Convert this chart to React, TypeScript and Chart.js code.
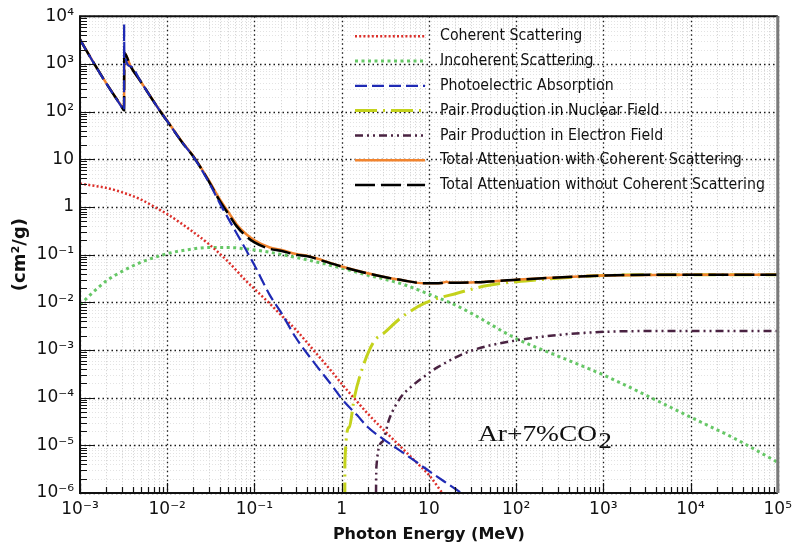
import React, { useEffect, useRef } from 'react';
import { Chart, registerables } from 'chart.js';

Chart.register(...registerables);

// ---------------- data (energy in MeV, mass attenuation in cm^2/g) ----------------
const COH_E = [0.001, 0.0015, 0.002, 0.003, 0.005, 0.008, 0.01, 0.015, 0.02, 0.03, 0.05, 0.08, 0.1, 0.15, 0.2, 0.3, 0.5, 0.8, 1, 1.5, 2, 3, 5, 8, 10, 15, 20];
const COH_MU = [3.09, 2.75, 2.51, 2.04, 1.43, 0.89, 0.71, 0.43, 0.295, 0.166, 0.0708, 0.0282, 0.0191, 0.00933, 0.0055, 0.00263, 8.9e-4, 3.24e-4, 1.95e-4, 8.3e-5, 4.57e-5, 2.14e-5, 8.5e-6, 3.63e-6, 2.4e-6, 8.9e-7, 5e-7];

const INCOH_E = [0.001, 0.0015, 0.002, 0.003, 0.005, 0.008, 0.01, 0.02, 0.03, 0.05, 0.08, 0.15, 0.3, 0.5, 1, 2, 3, 5, 10, 20, 30, 100, 316, 1000, 3160, 1e4, 3.16e4, 1e5];
const INCOH_MU = [0.0089, 0.018, 0.028, 0.044, 0.069, 0.093, 0.105, 0.132, 0.141, 0.141, 0.132, 0.112, 0.087, 0.071, 0.052, 0.037, 0.031, 0.024, 0.0148, 0.0088, 0.006, 0.00174, 7.2e-4, 3.0e-4, 1.1e-4, 3.9e-5, 1.41e-5, 4.4e-6];

const PHOTO_E = [0.001, 0.0015, 0.002, 0.003, 0.0032, 0.003205, 0.00322, 0.0038, 0.005, 0.008, 0.01, 0.015, 0.02, 0.03, 0.04, 0.05, 0.08, 0.1, 0.15, 0.2, 0.3, 0.5, 0.8, 1, 1.5, 2, 3, 5, 8, 10, 15, 20, 25];
const PHOTO_MU = [3240, 912, 389, 126, 105, 6700, 1860, 890, 417, 112, 63, 22, 11.2, 3.3, 1.2, 0.575, 0.126, 0.06, 0.0141, 0.0063, 0.00178, 5e-4, 1.66e-4, 9.5e-5, 4.3e-5, 2.4e-5, 1.35e-5, 7.1e-6, 3.9e-6, 2.9e-6, 1.74e-6, 1.23e-6, 9.3e-7];

const PAIRN_E = [1.085, 1.09, 1.22, 1.4, 1.74, 2.37, 3, 4.76, 9.2, 21, 47, 174, 1000, 1e4, 1e5];
const PAIRN_MU = [1e-7, 4.5e-6, 2.4e-5, 1.02e-4, 4.3e-4, 1.55e-3, 2.2e-3, 4.7e-3, 9.8e-3, 0.0155, 0.0224, 0.0295, 0.0363, 0.038, 0.038];

const PAIRE_E = [2.45, 2.5, 2.94, 3.5, 4.76, 6.2, 9.6, 12.5, 30, 93, 650, 5800, 1e5];
const PAIRE_MU = [1e-7, 3.5e-6, 1.2e-5, 3.5e-5, 1.02e-4, 1.66e-4, 3.1e-4, 4.3e-4, 9.5e-4, 1.55e-3, 2.3e-3, 2.5e-3, 2.5e-3];

const TOT_E = [0.001, 0.0015, 0.002, 0.003, 0.0032, 0.00322, 0.0038, 0.005, 0.008, 0.01, 0.015, 0.02, 0.03, 0.04, 0.05, 0.062, 0.08, 0.1, 0.15, 0.2, 0.3, 0.42, 0.5, 1, 2.8, 5, 8.8, 14, 16, 17.5, 35, 93, 1000, 1e4, 1e5];
const TOT_MU = [3250, 915, 392, 127, 106, 1700, 890, 417, 112, 63, 22, 11.3, 3.45, 1.33, 0.72, 0.4, 0.245, 0.18, 0.132, 0.12, 0.1, 0.091, 0.083, 0.056, 0.035, 0.029, 0.025, 0.0255, 0.0268, 0.0256, 0.0263, 0.0295, 0.0363, 0.038, 0.038];

const TOTC_E = [0.001, 0.0015, 0.002, 0.003, 0.0032, 0.00322, 0.0038, 0.005, 0.008, 0.01, 0.015, 0.02, 0.03, 0.04, 0.05, 0.062, 0.08, 0.1, 0.15, 0.2, 0.3, 0.42, 0.5, 1, 2.8, 5, 8.8, 14, 16, 17.5, 35, 93, 1000, 1e4, 1e5];
const TOTC_MU = [3253, 918, 395, 129, 108, 1720, 893, 419, 113, 64, 22.4, 11.6, 3.6, 1.45, 0.79, 0.44, 0.27, 0.2, 0.141, 0.126, 0.103, 0.093, 0.085, 0.0562, 0.035, 0.029, 0.025, 0.0255, 0.0268, 0.0256, 0.0263, 0.0295, 0.0363, 0.038, 0.038];

const SERIES_LABELS = [
  'Coherent Scattering',
  'Incoherent Scattering',
  'Photoelectric Absorption',
  'Pair Production in Nuclear Field',
  'Pair Production in Electron Field',
  'Total Attenuation with Coherent Scattering',
  'Total Attenuation without Coherent Scattering',
];

const X_MAJOR = [1e-3, 1e-2, 1e-1, 1, 10, 100, 1e3, 1e4, 1e5];
const X_LABELS = ['10\u207B\u00B3', '10\u207B\u00B2', '10\u207B\u00B9', '1', '10', '10\u00B2', '10\u00B3', '10\u2074', '10\u2075'];
const Y_MAJOR = [1e-6, 1e-5, 1e-4, 1e-3, 1e-2, 1e-1, 1, 10, 100, 1e3, 1e4];
const Y_LABELS = ['10\u207B\u2076', '10\u207B\u2075', '10\u207B\u2074', '10\u207B\u00B3', '10\u207B\u00B2', '10\u207B\u00B9', '1', '10', '10\u00B2', '10\u00B3', '10\u2074'];
const MINOR_MULT = [2, 3, 4, 5, 6, 7, 8, 9];

const ANNOTATION = 'Ar+7%CO';
const ANNOTATION_SUB = '2';

// ---------------- helpers ----------------
function allTicks(majors: number[]) {
  const out: number[] = [];
  majors.forEach((m, i) => {
    out.push(m);
    if (i < majors.length - 1) MINOR_MULT.forEach((k) => out.push(m * k));
  });
  return out;
}
const X_ALL = allTicks(X_MAJOR);
const Y_ALL = allTicks(Y_MAJOR);

function isDecade(v: number) {
  const l = Math.log10(v);
  return Math.abs(l - Math.round(l)) < 1e-6;
}
function labelFor(v: number, majors: number[], labels: string[]) {
  const lv = Math.log10(v);
  for (let i = 0; i < majors.length; i++) {
    if (Math.abs(Math.log10(majors[i]) - lv) < 1e-6) return labels[i];
  }
  return '';
}
function pts(E: number[], M: number[]) {
  return E.map((e, i) => ({ x: e, y: M[i] }));
}

const gridPlugin = {
  id: 'logGrid',
  beforeDatasetsDraw(chart: any) {
    const { ctx, chartArea: a } = chart;
    const xs = chart.scales.x;
    const ys = chart.scales.y;
    ctx.save();
    ctx.lineWidth = 1;
    ctx.setLineDash([1, 2]);
    ctx.strokeStyle = '#cdcdcd';
    ctx.beginPath();
    for (const v of X_ALL) {
      if (isDecade(v)) continue;
      const p = Math.round(xs.getPixelForValue(v)) + 0.5;
      ctx.moveTo(p, a.top);
      ctx.lineTo(p, a.bottom);
    }
    ctx.stroke();
    ctx.strokeStyle = '#e3e3e3';
    ctx.beginPath();
    for (const v of Y_ALL) {
      if (isDecade(v)) continue;
      const p = Math.round(ys.getPixelForValue(v)) + 0.5;
      ctx.moveTo(a.left, p);
      ctx.lineTo(a.right, p);
    }
    ctx.stroke();
    ctx.strokeStyle = '#1a1a1a';
    ctx.lineWidth = 1.3;
    ctx.setLineDash([1.5, 3]);
    ctx.beginPath();
    for (const v of X_MAJOR) {
      const p = Math.round(xs.getPixelForValue(v)) + 0.5;
      ctx.moveTo(p, a.top);
      ctx.lineTo(p, a.bottom);
    }
    for (const v of Y_MAJOR) {
      const p = Math.round(ys.getPixelForValue(v)) + 0.5;
      ctx.moveTo(a.left, p);
      ctx.lineTo(a.right, p);
    }
    ctx.stroke();
    ctx.restore();
  },
  afterDatasetsDraw(chart: any) {
    const { ctx, chartArea: a } = chart;
    const xs = chart.scales.x;
    const ys = chart.scales.y;
    ctx.save();
    ctx.setLineDash([]);
    ctx.strokeStyle = '#111';
    ctx.lineWidth = 1.2;
    ctx.beginPath();
    for (const v of Y_ALL) {
      const p = Math.round(ys.getPixelForValue(v)) + 0.5;
      const len = isDecade(v) ? 15 : 7;
      ctx.moveTo(a.left, p);
      ctx.lineTo(a.left + len, p);
    }
    for (const v of X_ALL) {
      const p = Math.round(xs.getPixelForValue(v)) + 0.5;
      const len = isDecade(v) ? 10 : 6;
      ctx.moveTo(p, a.bottom);
      ctx.lineTo(p, a.bottom - len);
    }
    ctx.stroke();
    // frame
    ctx.lineWidth = 2;
    ctx.strokeStyle = '#111';
    ctx.beginPath();
    ctx.moveTo(a.right, a.top);
    ctx.lineTo(a.left, a.top);
    ctx.lineTo(a.left, a.bottom);
    ctx.lineTo(a.right, a.bottom);
    ctx.stroke();
    ctx.lineWidth = 3;
    ctx.strokeStyle = '#7a7a7a';
    ctx.beginPath();
    ctx.moveTo(a.right, a.top);
    ctx.lineTo(a.right, a.bottom);
    ctx.stroke();
    ctx.restore();
  },
  afterDraw(chart: any) {
    const { ctx, chartArea: a } = chart;
    ctx.save();
    // legend
    ctx.font = '16px "DejaVu Sans"';
    const dsets = chart.data.datasets;
    let longest = 0;
    dsets.forEach((d: any) => {
      longest = Math.max(longest, ctx.measureText(d.label).width);
    });
    const sx = 325 / longest;
    dsets.forEach((ds: any, i: number) => {
      const y = a.top + 20 + i * 24.8;
      ctx.save();
      ctx.strokeStyle = ds.borderColor;
      ctx.lineWidth = ds.borderWidth;
      ctx.setLineDash(ds.borderDash || []);
      ctx.beginPath();
      ctx.moveTo(a.left + 275, y);
      ctx.lineTo(a.left + 345, y);
      ctx.stroke();
      ctx.restore();
      ctx.save();
      ctx.translate(a.left + 360, y);
      ctx.scale(sx, 1);
      ctx.fillStyle = '#111';
      ctx.textBaseline = 'middle';
      ctx.textAlign = 'left';
      ctx.fillText(ds.label, 0, 0);
      ctx.restore();
    });
    // annotation
    ctx.font = '24px "Liberation Serif"';
    const w = ctx.measureText(ANNOTATION).width;
    const ax = 119 / w;
    ctx.save();
    ctx.translate(a.left + 398, a.top + 425);
    ctx.scale(ax, 1);
    ctx.fillStyle = '#111';
    ctx.textBaseline = 'alphabetic';
    ctx.fillText(ANNOTATION, 0, 0);
    ctx.fillText(ANNOTATION_SUB, w + 1, 7);
    ctx.restore();
    ctx.restore();
  },
};

export default function App() {
  const ref = useRef<HTMLCanvasElement | null>(null);
  useEffect(() => {
    document.body.style.margin = '0';
    const canvas = ref.current;
    if (!canvas) return;
    const mk = (i: number, E: number[], M: number[], color: string, width: number, dash: number[], order: number) => ({
      label: SERIES_LABELS[i],
      data: pts(E, M),
      borderColor: color,
      backgroundColor: color,
      borderWidth: width,
      borderDash: dash,
      pointRadius: 0,
      pointHoverRadius: 0,
      showLine: true,
      fill: false,
      order,
      cubicInterpolationMode: 'monotone',
    });
    const chart = new Chart(canvas, {
      type: 'scatter',
      data: {
        datasets: [
          mk(0, COH_E, COH_MU, '#dc2f2a', 2.5, [2, 2.2], 5),
          mk(1, INCOH_E, INCOH_MU, '#66c766', 3, [3, 3.5], 6),
          mk(2, PHOTO_E, PHOTO_MU, '#1f2ab4', 2.2, [12, 5], 0),
          mk(3, PAIRN_E, PAIRN_MU, '#c4d21c', 3, [22, 6, 2, 6], 3),
          mk(4, PAIRE_E, PAIRE_MU, '#4a2342', 2.5, [8, 4, 2, 4, 2, 4], 4),
          mk(5, TOTC_E, TOTC_MU, '#f2842e', 2.5, [], 2),
          mk(6, TOT_E, TOT_MU, '#000000', 2.5, [20, 6], 1),
        ] as any,
      },
      options: {
        animation: false,
        responsive: false,
        maintainAspectRatio: false,
        devicePixelRatio: 1,
        events: [],
        layout: { padding: { left: 0, right: 18, top: 13, bottom: 0 } },
        plugins: { legend: { display: false }, tooltip: { enabled: false } },
        scales: {
          x: {
            type: 'logarithmic',
            min: 1e-3,
            max: 1e5,
            afterBuildTicks: (s: any) => {
              s.ticks = X_ALL.map((v) => ({ value: v }));
            },
            afterFit: (s: any) => {
              s.height = 60;
            },
            grid: { display: false, drawTicks: false },
            border: { display: false },
            ticks: {
              autoSkip: false,
              maxRotation: 0,
              minRotation: 0,
              padding: 6,
              color: '#111',
              font: { family: 'DejaVu Sans', size: 17 },
              callback: (v: any) => labelFor(Number(v), X_MAJOR, X_LABELS),
            },
            title: {
              display: true,
              text: 'Photon Energy (MeV)',
              color: '#111',
              font: { family: 'DejaVu Sans', size: 16, weight: 'bold' },
              padding: { top: 0, bottom: 9 },
            },
          },
          y: {
            type: 'logarithmic',
            min: 1e-6,
            max: 1e4,
            afterBuildTicks: (s: any) => {
              s.ticks = Y_ALL.map((v) => ({ value: v }));
            },
            afterFit: (s: any) => {
              s.width = 80;
            },
            grid: { display: false, drawTicks: false },
            border: { display: false },
            ticks: {
              autoSkip: false,
              padding: 6,
              color: '#111',
              font: { family: 'DejaVu Sans', size: 17 },
              callback: (v: any) => labelFor(Number(v), Y_MAJOR, Y_LABELS),
            },
            title: {
              display: true,
              text: '(cm\u00B2/g)',
              color: '#111',
              font: { family: 'DejaVu Sans', size: 18, weight: 'bold' },
              padding: { top: 10, bottom: 0 },
            },
          },
        },
      } as any,
      plugins: [gridPlugin],
    });
    return () => chart.destroy();
  }, []);
  return (
    <div style={{ width: 798, height: 553, background: '#fff' }}>
      <canvas ref={ref} width={798} height={553} style={{ display: 'block' }} />
    </div>
  );
}
